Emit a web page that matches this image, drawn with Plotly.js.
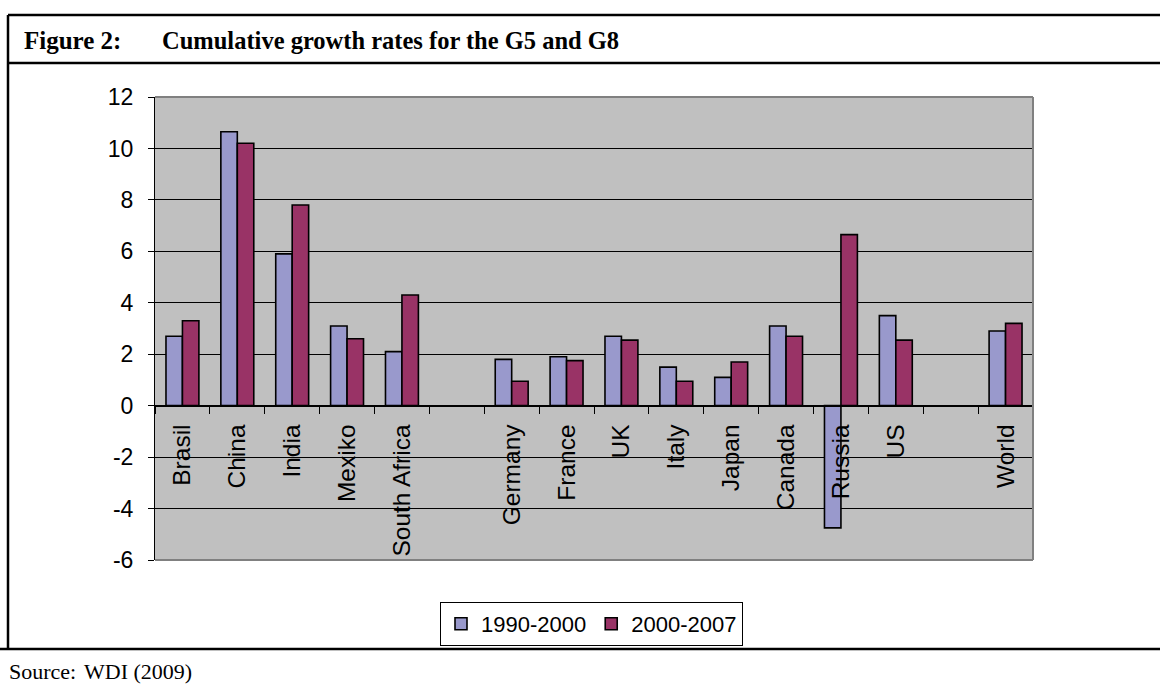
<!DOCTYPE html>
<html>
<head>
<meta charset="utf-8">
<script src="https://cdn.plot.ly/plotly-3.0.1.min.js"></script>
<style>
  html, body { margin: 0; padding: 0; background: #ffffff; }
  #chart { width: 1160px; height: 687px; }
</style>
</head>
<body>
<div id="chart"></div>
<script>
// ---- Data ----
const categories = ['Brasil', 'China', 'India', 'Mexiko', 'South Africa', ' ',
  'Germany', 'France', 'UK', 'Italy', 'Japan', 'Canada', 'Russia', 'US', '  ', 'World'];
const growth1990to2000 = [2.7, 10.65, 5.9, 3.1, 2.1, null, 1.8, 1.9, 2.7, 1.5, 1.1, 3.1, -4.75, 3.5, null, 2.9];
const growth2000to2007 = [3.3, 10.2, 7.8, 2.6, 4.3, null, 0.95, 1.75, 2.55, 0.95, 1.7, 2.7, 6.65, 2.55, null, 3.2];
const seriesNames = ['1990-2000', '2000-2007'];
const yTickValues = [-6, -4, -2, 0, 2, 4, 6, 8, 10, 12];
const yTickLabels = ['-6', '-4', '-2', '0', '2', '4', '6', '8', '10', '12'];
const figureLabel = 'Figure 2:';
const figureTitle = 'Cumulative growth rates for the G5 and G8';
const sourceLabel = 'Source:';
const sourceText = 'WDI (2009)';

// ---- Layout geometry ----
const W = 1160, H = 687;
const M = { l: 155, r: 127, t: 97, b: 127 };
const plotW = W - M.l - M.r, plotH = H - M.t - M.b;
const px = v => (v - M.l) / plotW;           // pixel x -> paper x
const py = v => (H - M.b - v) / plotH;       // pixel y -> paper y
const yMin = -6, yMax = 12;

const SANS = 'Liberation Sans, Arial, sans-serif';
const SERIF = 'Liberation Serif, Times New Roman, serif';

const traces = [
  {
    type: 'bar', name: seriesNames[0], x: categories, y: growth1990to2000,
    marker: { color: '#9999cc', line: { color: '#000000', width: 1.6 } },
    hoverinfo: 'x+y'
  },
  {
    type: 'bar', name: seriesNames[1], x: categories, y: growth2000to2007,
    marker: { color: '#993366', line: { color: '#000000', width: 1.6 } },
    hoverinfo: 'x+y'
  }
];

const lineShape = (x0, y0, x1, y1, color, width) => ({
  type: 'line', xref: 'paper', yref: 'paper',
  x0: x0, y0: y0, x1: x1, y1: y1,
  line: { color: color, width: width }, layer: 'above'
});

const layout = {
  width: W, height: H,
  margin: M,
  paper_bgcolor: '#ffffff',
  plot_bgcolor: '#c0c0c0',
  barmode: 'group',
  bargap: 0.4,
  bargroupgap: 0,
  showlegend: true,
  legend: {
    orientation: 'h',
    x: px(591.5), xanchor: 'center',
    y: py(602), yanchor: 'top',
    bgcolor: '#ffffff',
    bordercolor: '#000000', borderwidth: 1,
    font: { family: SANS, size: 22, color: '#000000' },
    traceorder: 'normal'
  },
  xaxis: {
    type: 'category',
    categoryorder: 'array', categoryarray: categories,
    anchor: 'free',
    position: (0 - yMin) / (yMax - yMin),
    showgrid: false,
    showline: true, linecolor: '#000000', linewidth: 1,
    ticks: 'outside', tickson: 'boundaries', ticklen: 7, tickcolor: '#000000', tickwidth: 1,
    tickangle: -90,
    ticklabelstandoff: 8,
    tickfont: { family: SANS, size: 24.5, color: '#000000' },
    zeroline: false,
    fixedrange: true
  },
  yaxis: {
    range: [yMin, yMax],
    tickmode: 'array', tickvals: yTickValues, ticktext: yTickLabels,
    showgrid: true, gridcolor: '#000000', gridwidth: 1,
    zeroline: false,
    showline: true, linecolor: '#000000', linewidth: 1,
    ticks: 'outside', ticklen: 6, tickcolor: '#000000', tickwidth: 1,
    ticklabelstandoff: 10,
    tickfont: { family: SANS, size: 23, color: '#000000' },
    fixedrange: true
  },
  shapes: [
    // plot-area border (top, right, bottom) in grey
    lineShape(0, 1, 1, 1, '#808080', 2),
    lineShape(1, 0, 1, 1, '#808080', 2),
    lineShape(0, 0, 1, 0, '#808080', 2),
    // figure frame
    lineShape(px(8), py(15), px(W), py(15), '#000000', 2.5),
    lineShape(px(8), py(63), px(W), py(63), '#000000', 2.5),
    lineShape(px(0), py(649), px(W), py(649), '#000000', 2.5),
    lineShape(px(8), py(15), px(8), py(649), '#000000', 2.5)
  ],
  annotations: [
    { xref: 'paper', yref: 'paper', x: px(22), y: py(41), xanchor: 'left', yanchor: 'middle',
      text: '<b>' + figureLabel + '</b>', showarrow: false,
      font: { family: SERIF, size: 25, color: '#000000' } },
    { xref: 'paper', yref: 'paper', x: px(160), y: py(41), xanchor: 'left', yanchor: 'middle',
      text: '<b>' + figureTitle + '</b>', showarrow: false,
      font: { family: SERIF, size: 24.5, color: '#000000' } },
    { xref: 'paper', yref: 'paper', x: px(7), y: py(671), xanchor: 'left', yanchor: 'middle',
      text: sourceLabel, showarrow: false,
      font: { family: SERIF, size: 22, color: '#000000' } },
    { xref: 'paper', yref: 'paper', x: px(82), y: py(671), xanchor: 'left', yanchor: 'middle',
      text: sourceText, showarrow: false,
      font: { family: SERIF, size: 22, color: '#000000' } }
  ]
};

Plotly.newPlot('chart', traces, layout, { displayModeBar: false, staticPlot: true });
</script>
</body>
</html>
